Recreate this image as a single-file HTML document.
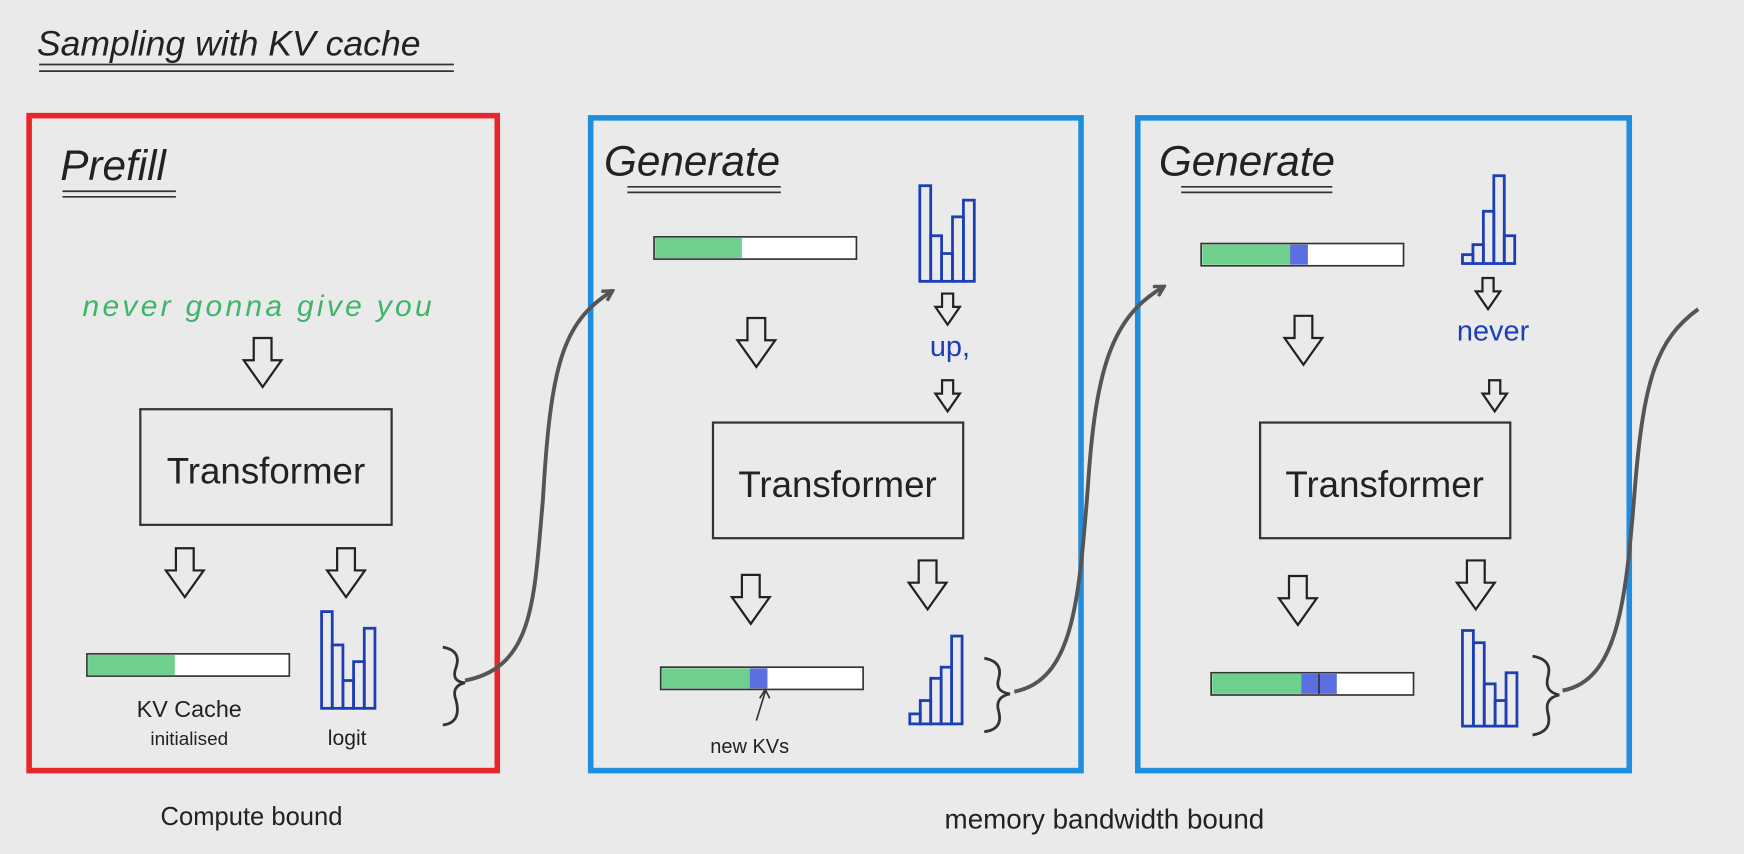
<!DOCTYPE html>
<html><head><style>
html,body{margin:0;padding:0;background:#e9eae9;}
svg{display:block}
text{font-family:"Liberation Sans",sans-serif;}
</style></head><body>
<svg width="1744" height="854" viewBox="0 0 1568 768" xmlns="http://www.w3.org/2000/svg">
<defs>
<path id="ha" d="M-8,0 H8 V20 H17 L0,44 L-17,20 H-8 Z" fill="none" stroke="#222" stroke-width="2"/>
<path id="hs" d="M-5,0 H5 V12 H11 L0,28 L-11,12 H-5 Z" fill="none" stroke="#222" stroke-width="2"/>
<marker id="ah" markerWidth="12" markerHeight="12" refX="9" refY="6" orient="auto" markerUnits="userSpaceOnUse"><path d="M1,1 L10,6 L1,11" fill="none" stroke="#555" stroke-width="3"/></marker>
</defs>
<rect width="1568" height="768" fill="#e9eae9"/>
<text x="33" y="50" font-size="32" fill="#222" font-style="italic">Sampling with KV cache</text>
<path d="M35,58 H408 M35,64 H408" stroke="#333" stroke-width="1.6"/>

<rect x="26" y="104" width="421" height="589" fill="none" stroke="#e8262b" stroke-width="5"/>
<rect x="531" y="106" width="441" height="587" fill="none" stroke="#1e8fe0" stroke-width="5"/>
<rect x="1023" y="106" width="442" height="587" fill="none" stroke="#1e8fe0" stroke-width="5"/>

<!-- Prefill -->
<text x="54" y="162" font-size="38" fill="#222" font-style="italic">Prefill</text>
<path d="M56,172 H158 M56,177 H158" stroke="#333" stroke-width="1.5"/>
<text x="74" y="284" font-size="27" fill="#3fb56a" font-style="italic" textLength="314">never gonna give you</text>
<use href="#ha" x="236" y="304"/>
<rect x="126" y="368" width="226" height="104" fill="none" stroke="#333" stroke-width="2"/>
<text x="239" y="435" font-size="33" fill="#222" text-anchor="middle">Transformer</text>
<use href="#ha" x="166" y="493"/>
<use href="#ha" x="311" y="493"/>
<rect x="78" y="588" width="182" height="20" fill="#fff" stroke="#333" stroke-width="1.5"/>
<rect x="79" y="589" width="78" height="18" fill="#6fcf8c"/>
<g fill="none" stroke="#1d3fb5" stroke-width="2.5">
<rect x="289" y="550" width="9.6" height="87"/><rect x="298.6" y="580" width="9.6" height="57"/><rect x="308.2" y="612" width="9.6" height="25"/><rect x="317.8" y="595" width="9.6" height="42"/><rect x="327.4" y="565" width="9.6" height="72"/>
</g>
<text x="170" y="645" font-size="21" fill="#222" text-anchor="middle">KV Cache</text>
<text x="170" y="670" font-size="17" fill="#222" text-anchor="middle">initialised</text>
<text x="312" y="670" font-size="19" fill="#222" text-anchor="middle">logit</text>
<path d="M398,582 Q415,585 410,600 Q405,613 418,614 Q405,617 410,630 Q415,650 398,652" fill="none" stroke="#333" stroke-width="2.5"/>
<path d="M418,612 C480,600 480,540 488,450 C495,330 505,290 550,262" fill="none" stroke="#555" stroke-width="3.5" marker-end="url(#ah)"/>

<!-- Generate 1 -->
<text x="543" y="158" font-size="38" fill="#222" font-style="italic">Generate</text>
<path d="M564,168 H702 M564,173 H702" stroke="#333" stroke-width="1.5"/>
<rect x="588" y="213" width="182" height="20" fill="#fff" stroke="#333" stroke-width="1.5"/>
<rect x="589" y="214" width="78" height="18" fill="#6fcf8c"/>
<g fill="none" stroke="#1d3fb5" stroke-width="2.5">
<rect x="827" y="167" width="9.8" height="86"/><rect x="836.8" y="212" width="9.8" height="41"/><rect x="846.6" y="228" width="9.8" height="25"/><rect x="856.4" y="195" width="9.8" height="58"/><rect x="866.2" y="180" width="9.8" height="73"/>
</g>
<use href="#hs" x="852" y="264"/>
<text x="836" y="320" font-size="26" fill="#1d3fb5">up,</text>
<use href="#hs" x="852" y="342"/>
<use href="#ha" x="680" y="286"/>
<rect x="641" y="380" width="225" height="104" fill="none" stroke="#333" stroke-width="2"/>
<text x="753" y="447" font-size="33" fill="#222" text-anchor="middle">Transformer</text>
<use href="#ha" x="675" y="517"/>
<use href="#ha" x="834" y="504"/>
<rect x="594" y="600" width="182" height="20" fill="#fff" stroke="#333" stroke-width="1.5"/>
<rect x="595" y="601" width="79" height="18" fill="#6fcf8c"/>
<rect x="674" y="601" width="16" height="18" fill="#5b6fe0"/>
<path d="M680,648 L688,622 M683,628 L688,620 L692,628" fill="none" stroke="#333" stroke-width="1.5"/>
<text x="674" y="677" font-size="18" fill="#222" text-anchor="middle">new KVs</text>
<g fill="none" stroke="#1d3fb5" stroke-width="2.5">
<rect x="818" y="642" width="9.4" height="9"/><rect x="827.4" y="630" width="9.4" height="21"/><rect x="836.8" y="610" width="9.4" height="41"/><rect x="846.2" y="600" width="9.4" height="51"/><rect x="855.6" y="572" width="9.4" height="79"/>
</g>
<path d="M885,592 Q902,595 898,610 Q894,622 908,624 Q894,627 898,640 Q902,656 885,658" fill="none" stroke="#333" stroke-width="2.5"/>
<path d="M912,622 C965,612 970,540 978,440 C985,330 1000,285 1046,258" fill="none" stroke="#555" stroke-width="3.5" marker-end="url(#ah)"/>

<!-- Generate 2 -->
<text x="1042" y="158" font-size="38" fill="#222" font-style="italic">Generate</text>
<path d="M1062,168 H1198 M1062,173 H1198" stroke="#333" stroke-width="1.5"/>
<rect x="1080" y="219" width="182" height="20" fill="#fff" stroke="#333" stroke-width="1.5"/>
<rect x="1081" y="220" width="79" height="18" fill="#6fcf8c"/>
<rect x="1160" y="220" width="16" height="18" fill="#5b6fe0"/>
<g fill="none" stroke="#1d3fb5" stroke-width="2.5">
<rect x="1315" y="229" width="9.4" height="8"/><rect x="1324.4" y="220" width="9.4" height="17"/><rect x="1333.8" y="190" width="9.4" height="47"/><rect x="1343.2" y="158" width="9.4" height="79"/><rect x="1352.6" y="212" width="9.4" height="25"/>
</g>
<use href="#hs" x="1338" y="250"/>
<text x="1310" y="306" font-size="26" fill="#1d3fb5">never</text>
<use href="#hs" x="1344" y="342"/>
<use href="#ha" x="1172" y="284"/>
<rect x="1133" y="380" width="225" height="104" fill="none" stroke="#333" stroke-width="2"/>
<text x="1245" y="447" font-size="33" fill="#222" text-anchor="middle">Transformer</text>
<use href="#ha" x="1167" y="518"/>
<use href="#ha" x="1327" y="504"/>
<rect x="1089" y="605" width="182" height="20" fill="#fff" stroke="#333" stroke-width="1.5"/>
<rect x="1090" y="606" width="80" height="18" fill="#6fcf8c"/>
<rect x="1170" y="606" width="32" height="18" fill="#5b6fe0"/>
<path d="M1186,606 V624" stroke="#333" stroke-width="1.5"/>
<g fill="none" stroke="#1d3fb5" stroke-width="2.5">
<rect x="1315" y="567" width="9.8" height="86"/><rect x="1324.8" y="578" width="9.8" height="75"/><rect x="1334.6" y="615" width="9.8" height="38"/><rect x="1344.4" y="630" width="9.8" height="23"/><rect x="1354.2" y="605" width="9.8" height="48"/>
</g>
<path d="M1378,590 Q1396,593 1392,608 Q1388,622 1402,625 Q1388,628 1392,642 Q1396,658 1378,661" fill="none" stroke="#333" stroke-width="2.5"/>
<path d="M1405,621 C1455,612 1462,540 1470,440 C1478,340 1490,305 1527,278" fill="none" stroke="#555" stroke-width="3.5"/>

<text x="226" y="742" font-size="23" fill="#222" text-anchor="middle">Compute bound</text>
<text x="993" y="745" font-size="25" fill="#222" text-anchor="middle">memory bandwidth bound</text>
</svg>
</body></html>
